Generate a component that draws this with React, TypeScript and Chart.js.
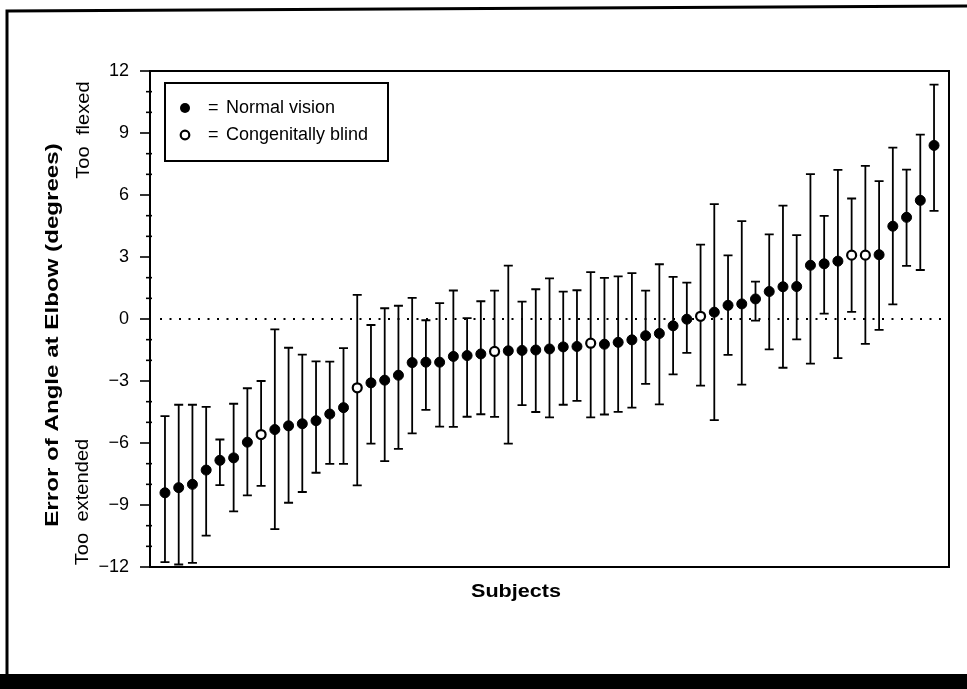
import React, { useEffect, useRef } from "react";
import { Chart, registerables } from "chart.js";

Chart.register(...registerables);

const subjects = [
  1, 2, 3, 4, 5, 6, 7, 8, 9, 10, 11, 12, 13, 14, 15, 16, 17, 18, 19, 20,
  21, 22, 23, 24, 25, 26, 27, 28, 29, 30, 31, 32, 33, 34, 35, 36, 37, 38, 39, 40,
  41, 42, 43, 44, 45, 46, 47, 48, 49, 50, 51, 52, 53, 54, 55, 56, 57,
];

const means = [
  -8.41, -8.16, -8.0, -7.31, -6.84, -6.72, -5.96, -5.59, -5.35, -5.17,
  -5.07, -4.92, -4.6, -4.29, -3.33, -3.09, -2.96,
  -2.72, -2.11, -2.09, -2.09, -1.81, -1.77, -1.69, -1.57, -1.54, -1.52,
  -1.5, -1.45, -1.35, -1.33, -1.17, -1.22, -1.13, -1.01, -0.81, -0.7,
  -0.33, -0.01, 0.13, 0.33, 0.66, 0.73, 0.97, 1.33, 1.56, 1.57,
  2.6, 2.67, 2.8, 3.09, 3.09, 3.11, 4.49, 4.92, 5.74, 8.4,
];

const highs = [
  -4.7, -4.15, -4.15, -4.25, -5.83, -4.1, -3.35, -3.0, -0.5, -1.39,
  -1.72, -2.05, -2.06, -1.41, 1.17, -0.29, 0.52,
  0.64, 1.02, -0.06, 0.77, 1.38, 0.04, 0.86, 1.37, 2.58, 0.84,
  1.44, 1.97, 1.32, 1.39, 2.27, 1.99, 2.06, 2.22, 1.37, 2.65,
  2.04, 1.76, 3.6, 5.56, 3.08, 4.74, 1.81, 4.09, 5.49, 4.06,
  7.01, 4.99, 7.22, 5.83, 7.41, 6.67, 8.29, 7.23, 8.92, 11.34,
];

const lows = [
  -11.76, -11.88, -11.8, -10.48, -8.04, -9.31, -8.53, -8.07, -10.17, -8.89,
  -8.37, -7.44, -7.01, -7.01, -8.05, -6.03, -6.88,
  -6.28, -5.53, -4.4, -5.21, -5.22, -4.73, -4.61, -4.74, -6.03, -4.17,
  -4.5, -4.76, -4.15, -3.96, -4.76, -4.62, -4.49, -4.29, -3.14, -4.13,
  -2.68, -1.64, -3.22, -4.89, -1.74, -3.18, -0.08, -1.47, -2.36, -0.99,
  -2.16, 0.26, -1.89, 0.34, -1.2, -0.53, 0.71, 2.57, 2.37, 5.23,
];

// subjects (1-based) who are congenitally blind
const blindSubjects = [8, 15, 25, 32, 40, 51, 52];

const yTickValues = [-12, -9, -6, -3, 0, 3, 6, 9, 12];
const yTickLabels = ["\u221212", "\u22129", "\u22126", "\u22123", "0", "3", "6", "9", "12"];

const legendLabels = ["Normal vision", "Congenitally blind"];
const yTitle = "Error of Angle at Elbow (degrees)";
const xTitle = "Subjects";
const topNote = "Too  flexed";
const bottomNote = "Too  extended";

const FONT = "'Liberation Sans', Arial, Helvetica, sans-serif";

function rotatedText(ctx: any, text: string, x: number, y: number, font: string, stretch: number) {
  ctx.save();
  ctx.font = font;
  ctx.translate(x, y);
  ctx.rotate(-Math.PI / 2);
  ctx.scale(stretch, 1);
  ctx.textAlign = "center";
  ctx.textBaseline = "middle";
  ctx.fillText(text, 0, 0);
  ctx.restore();
}

const decorPlugin = {
  id: "decor",
  beforeDraw(chart: any) {
    const { ctx, width, height } = chart;
    ctx.save();
    ctx.fillStyle = "#fff";
    ctx.fillRect(0, 0, width, height);
    ctx.strokeStyle = "#000";
    ctx.lineWidth = 3;
    ctx.beginPath();
    ctx.moveTo(7, height);
    ctx.lineTo(7, 11);
    ctx.lineTo(width, 6);
    ctx.stroke();
    ctx.fillStyle = "#000";
    ctx.fillRect(0, 674, width, height - 674);
    ctx.restore();
  },
  beforeDatasetsDraw(chart: any) {
    const { ctx, chartArea, scales } = chart;
    const xs = scales.x;
    const ys = scales.y;
    ctx.save();
    // dotted zero line
    ctx.strokeStyle = "#000";
    ctx.lineWidth = 2;
    ctx.setLineDash([2, 7.5]);
    const y0 = ys.getPixelForValue(0);
    ctx.beginPath();
    ctx.moveTo(chartArea.left + 10, y0);
    ctx.lineTo(chartArea.right, y0);
    ctx.stroke();
    ctx.setLineDash([]);
    // error bars
    ctx.lineWidth = 1.8;
    for (let i = 0; i < subjects.length; i++) {
      const x = xs.getPixelForValue(subjects[i]);
      const yh = ys.getPixelForValue(highs[i]);
      const yl = ys.getPixelForValue(lows[i]);
      ctx.beginPath();
      ctx.moveTo(x, yh);
      ctx.lineTo(x, yl);
      ctx.moveTo(x - 4.5, yh);
      ctx.lineTo(x + 4.5, yh);
      ctx.moveTo(x - 4.5, yl);
      ctx.lineTo(x + 4.5, yl);
      ctx.stroke();
    }
    ctx.restore();
  },
  afterDraw(chart: any) {
    const { ctx, chartArea, scales } = chart;
    const ys = scales.y;
    ctx.save();
    ctx.strokeStyle = "#000";
    ctx.fillStyle = "#000";
    // plot frame
    ctx.lineWidth = 2;
    ctx.strokeRect(chartArea.left, chartArea.top, chartArea.right - chartArea.left, chartArea.bottom - chartArea.top);
    // y ticks
    ctx.lineWidth = 1.6;
    for (let v = -12; v <= 12; v++) {
      const y = ys.getPixelForValue(v);
      const major = yTickValues.indexOf(v) >= 0;
      ctx.beginPath();
      ctx.moveTo(chartArea.left - (major ? 10 : 4), y);
      ctx.lineTo(chartArea.left + (major ? 0 : 2), y);
      ctx.stroke();
    }
    // axis titles
    ctx.save();
    ctx.font = `bold 18px ${FONT}`;
    ctx.translate(516, 592);
    ctx.scale(1.2, 1);
    ctx.textAlign = "center";
    ctx.textBaseline = "middle";
    ctx.fillText(xTitle, 0, 0);
    ctx.restore();
    rotatedText(ctx, yTitle, 53, 335, `bold 19px ${FONT}`, 1.27);
    rotatedText(ctx, topNote, 84, 130, `18px ${FONT}`, 1.12);
    rotatedText(ctx, bottomNote, 83, 502, `18px ${FONT}`, 1.12);
    // legend box
    ctx.lineWidth = 2;
    ctx.strokeRect(165, 83, 223, 78);
    ctx.textAlign = "left";
    ctx.textBaseline = "middle";
    ctx.font = `18px ${FONT}`;
    const rows = [108, 135];
    ctx.beginPath();
    ctx.arc(185, rows[0], 5, 0, Math.PI * 2);
    ctx.fill();
    ctx.beginPath();
    ctx.lineWidth = 2.2;
    ctx.arc(185, rows[1], 4.3, 0, Math.PI * 2);
    ctx.stroke();
    for (let r = 0; r < 2; r++) {
      ctx.fillText("=", 208, rows[r]);
      ctx.fillText(legendLabels[r], 226, rows[r]);
    }
    ctx.restore();
  },
};

export default function App() {
  const canvasRef = useRef<HTMLCanvasElement | null>(null);

  useEffect(() => {
    if (!canvasRef.current) return;
    const normal: any[] = [];
    const blind: any[] = [];
    for (let i = 0; i < subjects.length; i++) {
      const pt = { x: subjects[i], y: means[i] };
      if (blindSubjects.indexOf(subjects[i]) >= 0) blind.push(pt);
      else normal.push(pt);
    }
    const chart = new Chart(canvasRef.current, {
      type: "scatter",
      data: {
        datasets: [
          {
            label: legendLabels[0],
            data: normal,
            backgroundColor: "#000",
            borderColor: "#000",
            borderWidth: 1,
            pointRadius: 5,
            pointHoverRadius: 5,
          },
          {
            label: legendLabels[1],
            data: blind,
            backgroundColor: "#fff",
            borderColor: "#000",
            borderWidth: 2.2,
            pointRadius: 4.5,
            pointHoverRadius: 4.5,
          },
        ],
      },
      options: {
        animation: false,
        responsive: false,
        devicePixelRatio: 1,
        events: [],
        layout: { padding: { left: 0, top: 71, right: 18, bottom: 122 } },
        plugins: { legend: { display: false }, tooltip: { enabled: false } },
        scales: {
          x: { type: "linear", display: false, min: -0.09, max: 58.09 },
          y: {
            type: "linear",
            min: -12,
            max: 12,
            afterFit: (s: any) => {
              s.width = 150;
            },
            grid: { display: false },
            border: { display: false },
            ticks: {
              stepSize: 3,
              padding: 13,
              color: "#000",
              font: { family: FONT, size: 18 },
              callback: (v: any) => {
                const k = yTickValues.indexOf(Number(v));
                return k >= 0 ? yTickLabels[k] : "";
              },
            },
          },
        },
      },
      plugins: [decorPlugin],
    });
    return () => chart.destroy();
  }, []);

  return (
    <div style={{ position: "absolute", left: 0, top: 0, width: 967, height: 689 }}>
      <canvas ref={canvasRef} width={967} height={689} style={{ display: "block" }} />
    </div>
  );
}
